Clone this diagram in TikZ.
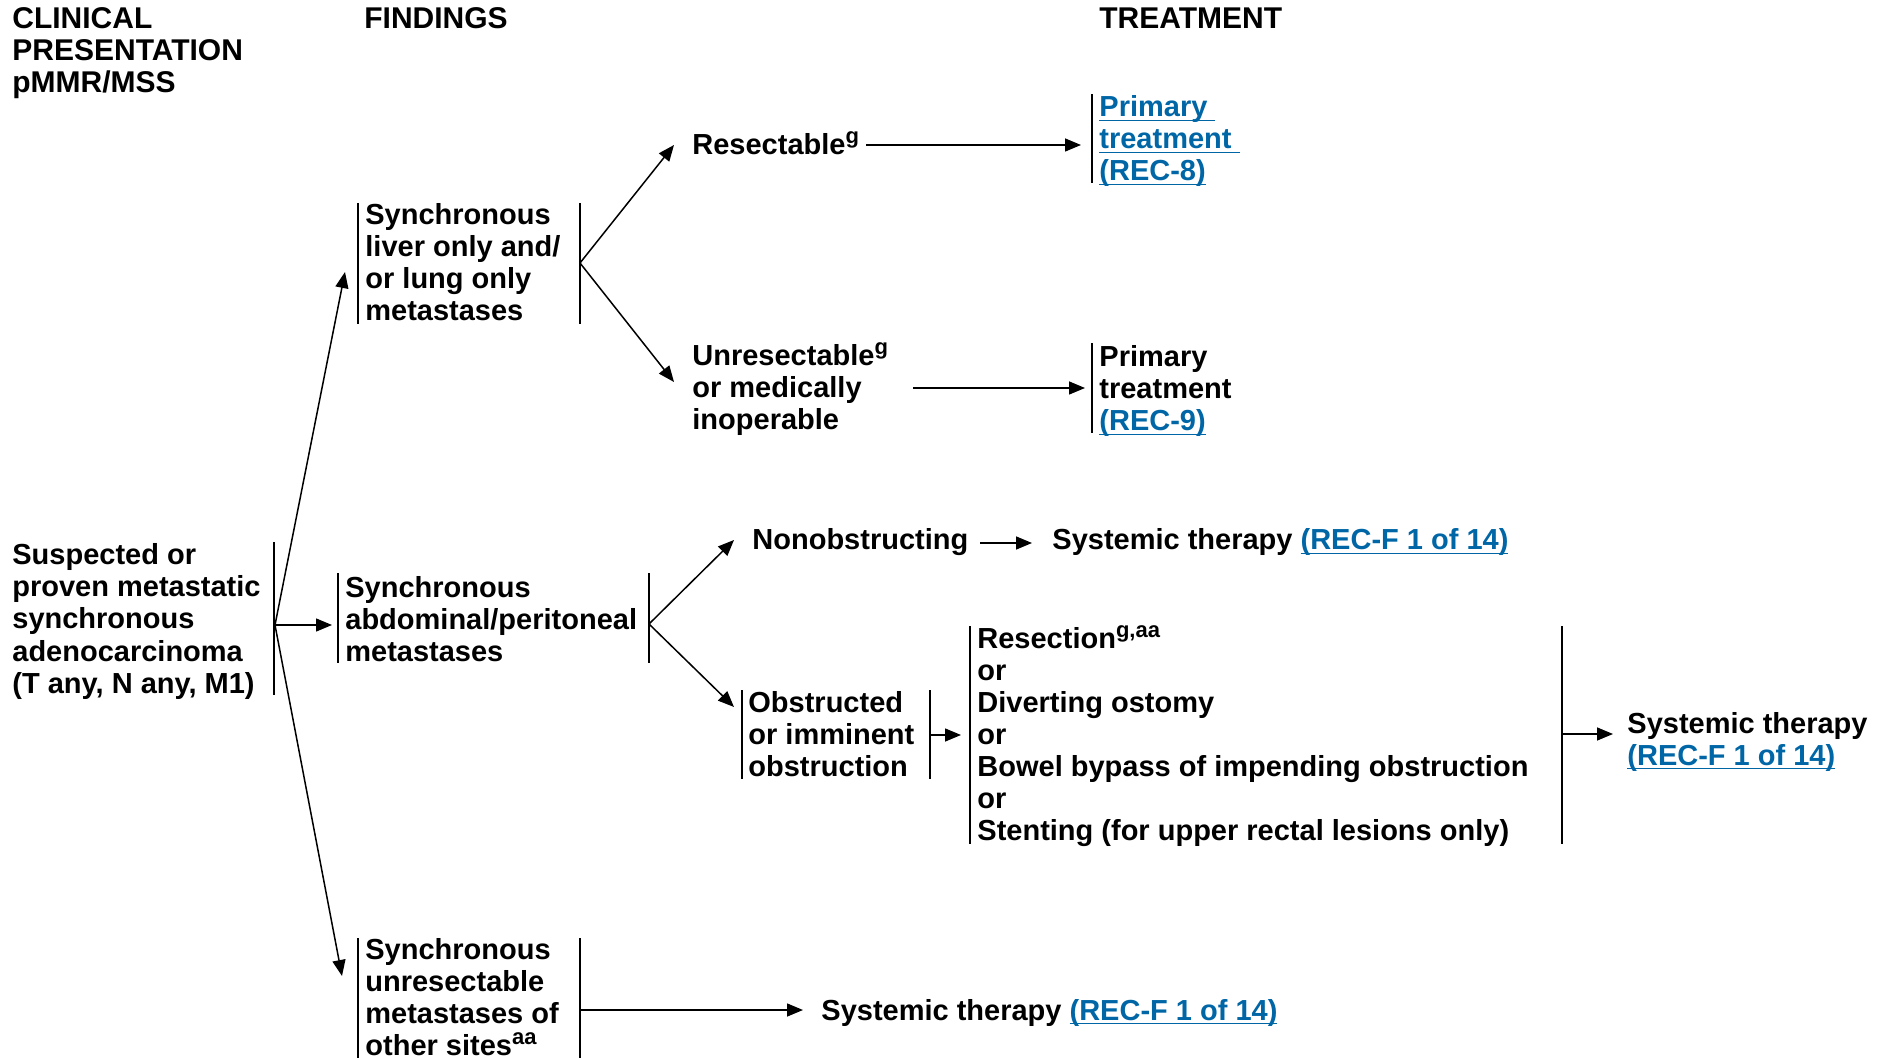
\documentclass[tikz,border=0pt]{standalone}
\usepackage{fontspec}
\setmainfont{Liberation Sans}
\usetikzlibrary{arrows.meta}
\definecolor{linkblue}{RGB}{0,102,166}
\newcommand\mlines[1]{\vtop{\halign{##\hfil\cr#1\crcr}}}
\newcommand\mylink[1]{\setbox0=\hbox{#1}\rlap{\color{linkblue}\rule[-2.2pt]{\wd0}{0.8pt}}{\color{linkblue}\box0}}
\newcommand\sps[1]{\raisebox{5.5pt}{\fontsize{11pt}{11pt}\selectfont #1}}
\newcommand\bodyfont{\fontsize{14.5pt}{16pt}\selectfont\bfseries}
\newcommand\hdrfont{\fontsize{15pt}{16pt}\selectfont\bfseries}
\begin{document}
\begin{tikzpicture}[x=0.5pt,y=-0.5pt,
  txt/.style={inner sep=0pt, anchor=base west, font=\bodyfont},
  hdr/.style={inner sep=0pt, anchor=base west, font=\hdrfont},
  bar/.style={line width=1pt},
  arr/.style={line width=0.75pt, -{Triangle[length=8pt,width=6.5pt]}}]
\useasboundingbox (0,0) rectangle (1878,1058);

% headers
\node[hdr] (hclin) at (12,29) {\mlines{CLINICAL\cr PRESENTATION\cr pMMR/MSS}};
\node[hdr] (hfind) at (364,29) {FINDINGS};
\node[hdr] (htreat) at (1099,29) {TREATMENT};

% text nodes
\node[txt] (sus) at (12,565) {\mlines{Suspected or\cr proven metastatic\cr synchronous\cr adenocarcinoma\cr (T any, N any, M1)}};
\node[txt] (liver) at (365,225) {\mlines{Synchronous\cr liver only and/\cr or lung only\cr metastases}};
\node[txt] (abd) at (345,597) {\mlines{Synchronous\cr abdominal/peritoneal\cr metastases}};
\node[txt] (oth) at (365,959) {\mlines{Synchronous\cr unresectable\cr metastases of\cr other sites\sps{aa}}};
\node[txt] (res) at (692,155) {Resectable\sps{g}};
\node[txt] (unres) at (692,366) {\mlines{Unresectable\sps{g}\cr or medically\cr inoperable}};
\node[txt] (prim8) at (1099,117) {\mlines{\mylink{Primary }\cr \mylink{treatment }\cr \mylink{(REC-8)}}};
\node[txt] (prim9) at (1099,367) {\mlines{Primary\cr treatment\cr \mylink{(REC-9)}}};
\node[txt] (nonob) at (752,549) {Nonobstructing};
\node[txt] (sys1) at (1052,550) {Systemic therapy \mylink{(REC-F 1 of 14)}};
\node[txt] (obst) at (748,712) {\mlines{Obstructed\cr or imminent\cr obstruction}};
\node[txt] (opts) at (977,648) {\mlines{Resection\sps{g,aa}\cr or\cr Diverting ostomy\cr or\cr Bowel bypass of impending obstruction\cr or\cr Stenting (for upper rectal lesions only)}};
\node[txt] (sys2) at (1627,733) {\mlines{Systemic therapy\cr \mylink{(REC-F 1 of 14)}}};
\node[txt] (sys3) at (821,1020) {Systemic therapy \mylink{(REC-F 1 of 14)}};

% bars
\coordinate (susRt) at (274,542); \coordinate (susRb) at (274,695);
\coordinate (livLt) at (358,203); \coordinate (livLb) at (358,324);
\coordinate (livRt) at (580,203); \coordinate (livRb) at (580,324);
\coordinate (abdLt) at (338,573); \coordinate (abdLb) at (338,663);
\coordinate (abdRt) at (649,573); \coordinate (abdRb) at (649,663);
\coordinate (othLt) at (358,938); \coordinate (othLb) at (358,1058);
\coordinate (othRt) at (580,938); \coordinate (othRb) at (580,1058);
\coordinate (p8t) at (1092,94); \coordinate (p8b) at (1092,183);
\coordinate (p9t) at (1092,343); \coordinate (p9b) at (1092,433);
\coordinate (obLt) at (742,690); \coordinate (obLb) at (742,779);
\coordinate (obRt) at (930,690); \coordinate (obRb) at (930,779);
\coordinate (opLt) at (970,626); \coordinate (opLb) at (970,844);
\coordinate (opRt) at (1562,626); \coordinate (opRb) at (1562,844);
\foreach \a/\b in {susRt/susRb,livLt/livLb,livRt/livRb,abdLt/abdLb,abdRt/abdRb,othLt/othLb,othRt/othRb,p8t/p8b,p9t/p9b,obLt/obLb,obRt/obRb,opLt/opLb,opRt/opRb}
  \draw[bar] (\a) -- (\b);

% connector points
\coordinate (O) at (275,625);
\coordinate (toLiv) at (345,272);
\coordinate (toAbd) at (332,625);
\coordinate (toOth) at (342,976);
\coordinate (livM) at (580,263);
\coordinate (toRes) at (674,145);
\coordinate (toUnres) at (674,382);
\coordinate (resE) at (866,145);
\coordinate (toP8) at (1081,145);
\coordinate (unresE) at (913,388);
\coordinate (toP9) at (1085,388);
\coordinate (abdM) at (649,624);
\coordinate (toNon) at (734,540);
\coordinate (toObs) at (734,707);
\coordinate (nonE) at (980,543);
\coordinate (toSys1) at (1032,543);
\coordinate (obM) at (930,735);
\coordinate (toOpts) at (961,735);
\coordinate (opM) at (1562,734);
\coordinate (toSys2) at (1613,734);
\coordinate (othM) at (580,1010);
\coordinate (toSys3) at (803,1010);

\draw[arr] (O) -- (toLiv);
\draw[arr] (O) -- (toAbd);
\draw[arr] (O) -- (toOth);
\draw[arr] (livM) -- (toRes);
\draw[arr] (livM) -- (toUnres);
\draw[arr] (resE) -- (toP8);
\draw[arr] (unresE) -- (toP9);
\draw[arr] (abdM) -- (toNon);
\draw[arr] (abdM) -- (toObs);
\draw[arr] (nonE) -- (toSys1);
\draw[arr] (obM) -- (toOpts);
\draw[arr] (opM) -- (toSys2);
\draw[arr] (othM) -- (toSys3);
\end{tikzpicture}
\end{document}
